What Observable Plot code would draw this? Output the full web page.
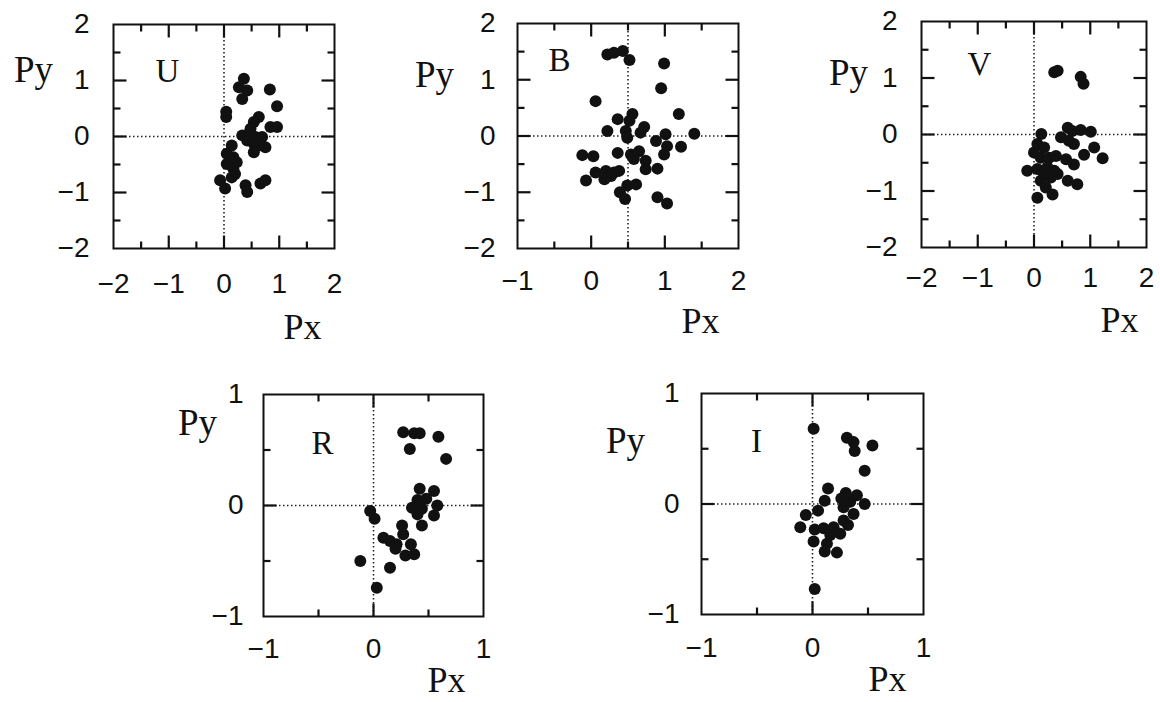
<!DOCTYPE html>
<html><head><meta charset="utf-8">
<script src="https://cdn.jsdelivr.net/npm/d3@7"></script>
<script src="https://cdn.jsdelivr.net/npm/@observablehq/plot@0.6"></script>
<style>
body{margin:0;background:#fff;}
#wrap{position:relative;width:1160px;height:702px;overflow:hidden;background:#fff;}
.panel{position:absolute;}
.panel svg{max-width:none !important;}
</style></head><body><div id="wrap"></div>
<script>
// ---- data (Px, Py) per band ----
const U_px = [0.36,0.27,0.42,0.33,0.83,0.96,0.04,0.04,0.63,0.54,0.84,0.96,0.48,0.45,0.33,0.57,0.69,0.42,0.54,0.75,0.63,0.54,0.14,0.05,0.17,0.11,0.23,0.05,0.17,0.20,0.14,-0.07,0.02,0.39,0.42,0.66,0.75];
const U_py = [1.03,0.88,0.82,0.67,0.84,0.54,0.44,0.35,0.35,0.26,0.17,0.17,0.14,0.05,0.02,-0.01,-0.01,-0.07,-0.13,-0.19,-0.16,-0.28,-0.16,-0.31,-0.37,-0.43,-0.46,-0.49,-0.58,-0.67,-0.73,-0.78,-0.93,-0.87,-0.99,-0.84,-0.78];
const B_px = [0.22,0.31,0.43,0.52,0.99,0.95,0.06,0.56,1.19,0.36,0.52,0.22,0.47,0.72,0.67,0.49,1.40,1.01,0.88,1.03,1.22,0.99,-0.12,0.03,0.36,0.54,0.65,0.58,0.74,0.74,0.90,-0.07,0.06,0.20,0.18,0.31,0.38,0.27,0.49,0.61,0.39,0.46,0.90,1.03];
const B_py = [1.45,1.48,1.51,1.35,1.29,0.85,0.62,0.39,0.39,0.30,0.27,0.09,0.09,0.16,0.06,-0.03,0.04,0.03,-0.09,-0.18,-0.19,-0.33,-0.34,-0.36,-0.30,-0.33,-0.27,-0.41,-0.44,-0.59,-0.58,-0.79,-0.65,-0.62,-0.77,-0.65,-0.62,-0.71,-0.88,-0.86,-1.00,-1.12,-1.09,-1.20];
const V_px = [0.36,0.42,0.83,0.88,0.13,0.60,0.68,0.83,1.01,0.48,0.62,0.71,1.07,0.06,0.18,0.00,0.89,1.22,0.12,0.27,0.39,0.57,0.71,-0.12,0.06,0.24,0.36,0.18,0.30,0.42,0.60,0.77,0.21,0.33,0.06,0.12];
const V_py = [1.10,1.13,1.02,0.90,0.01,0.12,0.06,0.08,0.05,-0.05,-0.11,-0.17,-0.23,-0.17,-0.23,-0.32,-0.36,-0.42,-0.41,-0.41,-0.38,-0.44,-0.53,-0.64,-0.61,-0.58,-0.64,-0.70,-0.76,-0.70,-0.82,-0.88,-0.94,-1.06,-1.12,-0.82];
const R_px = [0.27,0.37,0.42,0.59,0.33,0.66,0.42,0.55,0.40,0.48,0.58,0.35,0.44,0.55,0.40,-0.03,0.01,0.44,0.26,0.27,0.09,0.15,0.21,0.20,0.29,0.37,-0.12,0.15,0.03,0.34];
const R_py = [0.66,0.65,0.65,0.62,0.51,0.42,0.15,0.13,0.05,0.06,0.00,-0.02,-0.03,-0.09,-0.08,-0.05,-0.12,-0.18,-0.18,-0.26,-0.29,-0.32,-0.35,-0.39,-0.45,-0.44,-0.50,-0.56,-0.74,-0.35];
const I_px = [0.01,0.31,0.37,0.38,0.54,0.47,0.14,0.30,0.40,0.11,0.26,0.34,0.47,0.05,-0.06,0.28,0.37,0.28,-0.11,0.02,0.10,0.19,0.32,0.25,0.16,0.01,0.13,0.11,0.22,0.02];
const I_py = [0.68,0.60,0.56,0.48,0.53,0.30,0.14,0.10,0.08,0.03,0.05,0.02,0.00,-0.06,-0.10,-0.03,-0.09,-0.15,-0.21,-0.23,-0.22,-0.21,-0.19,-0.27,-0.28,-0.34,-0.36,-0.43,-0.44,-0.77];

// tick labels
const ticks2 = [-2,-1,0,1,2];
const ticksB = [-1,0,1,2];
const ticks1 = [-1,0,1];
const minor2 = [-1.5,-0.5,0.5,1.5];
const minorB = [-0.5,0.5,1.5];
const minor1 = [-0.5,0.5];

const bands = [
  {name:"U", px:U_px, py:U_py, xd:[-2,2], yd:[-2,2], xt:ticks2, yt:ticks2, xm:minor2, ym:minor2, vline:0,
   L:113, T:24, W:221, H:224, xpad:25, ypad:24, letter:[54,47], pyl:[-80,46], pxl:[-32,79]},
  {name:"B", px:B_px, py:B_py, xd:[-1,2], yd:[-2,2], xt:ticksB, yt:ticks2, xm:minorB, ym:minor2, vline:0.5,
   L:517, T:23, W:221, H:225, xpad:22, ypad:22, letter:[42,37], pyl:[-83,52], pxl:[-38,73]},
  {name:"V", px:V_px, py:V_py, xd:[-2,2], yd:[-2,2], xt:ticks2, yt:ticks2, xm:minor2, ym:minor2, vline:0,
   L:921, T:21, W:225, H:226, xpad:20, ypad:24, letter:[58,43], pyl:[-73,52], pxl:[-27,73]},
  {name:"R", px:R_px, py:R_py, xd:[-1,1], yd:[-1,1], xt:ticks1, yt:ticks1, xm:minor1, ym:minor1, vline:0,
   L:263, T:394, W:220, H:222, xpad:22, ypad:20, letter:[59,49], pyl:[-66,29], pxl:[-37,64]},
  {name:"I", px:I_px, py:I_py, xd:[-1,1], yd:[-1,1], xt:ticks1, yt:ticks1, xm:minor1, ym:minor1, vline:0,
   L:701, T:393, W:222, H:221, xpad:23, ypad:22, letter:[55,48], pyl:[-76,48], pxl:[-36,65]}
];

const SANS = "Liberation Sans, Arial, Helvetica, sans-serif";
const SERIF = "Liberation Serif, Times New Roman, serif";
const fmt = d => d < 0 ? "\u2212" + Math.abs(d) : String(d);
const ML = 110, MR = 40, MT = 20, MB = 120;
const MAJ = 13, MIN = 7;
const INK = "#111";

const wrap = document.getElementById("wrap");
for (const b of bands) {
  const data = b.px.map((x, i) => ({x, y: b.py[i]}));
  const majX = b.xt.filter(t => t > b.xd[0] && t < b.xd[1]);
  const majY = b.yt.filter(t => t > b.yd[0] && t < b.yd[1]);
  const H = b.H, W = b.W;
  // inner ticks on all four sides: pixel lengths expressed in data units of each scale
  const ky = (b.yd[1] - b.yd[0]) / H, kx = (b.xd[1] - b.xd[0]) / W;
  const segs = [];
  for (const [vals, len] of [[majX, MAJ], [b.xm, MIN]]) for (const v of vals) {
    segs.push({x1: v, x2: v, y1: b.yd[0], y2: b.yd[0] + len * ky});
    segs.push({x1: v, x2: v, y1: b.yd[1], y2: b.yd[1] - len * ky});
  }
  for (const [vals, len] of [[majY, MAJ], [b.ym, MIN]]) for (const v of vals) {
    segs.push({y1: v, y2: v, x1: b.xd[0], x2: b.xd[0] + len * kx});
    segs.push({y1: v, y2: v, x1: b.xd[1], x2: b.xd[1] - len * kx});
  }
  const plot = Plot.plot({
    width: W + ML + MR, height: H + MT + MB,
    marginLeft: ML, marginRight: MR, marginTop: MT, marginBottom: MB,
    x: {domain: b.xd}, y: {domain: b.yd},
    style: {fontFamily: SANS, fontSize: "28px", color: INK, background: "transparent", overflow: "visible", maxWidth: "none"},
    marks: [
      Plot.ruleY([0], {stroke: "#222", strokeWidth: 1.6, strokeDasharray: "1.5,2.5"}),
      Plot.ruleX([b.vline], {stroke: "#222", strokeWidth: 1.6, strokeDasharray: "1.5,2.5"}),
      Plot.frame({stroke: INK, strokeWidth: 2}),
      Plot.link(segs, {x1: "x1", y1: "y1", x2: "x2", y2: "y2", stroke: INK, strokeWidth: 2.2}),
      Plot.dot(data, {x: "x", y: "y", r: 6, fill: INK, stroke: "none"}),
      Plot.axisX(b.xt, {anchor: "bottom", tickSize: 0, tickPadding: b.xpad, tickFormat: fmt, label: null, fontSize: 28, fontFamily: SANS}),
      Plot.axisY(b.yt, {anchor: "left", tickSize: 0, tickPadding: b.ypad, tickFormat: fmt, label: null, fontSize: 28, fontFamily: SANS}),
      Plot.text([b.name], {frameAnchor: "top-left", textAnchor: "middle", lineAnchor: "middle", dx: b.letter[0], dy: b.letter[1], fontFamily: SERIF, fontSize: 33, fill: INK}),
      Plot.text(["Py"], {frameAnchor: "top-left", textAnchor: "middle", lineAnchor: "middle", dx: b.pyl[0], dy: b.pyl[1], fontFamily: SERIF, fontSize: 37, fill: INK}),
      Plot.text(["Px"], {frameAnchor: "bottom-right", textAnchor: "middle", lineAnchor: "middle", dx: b.pxl[0], dy: b.pxl[1], fontFamily: SERIF, fontSize: 36, fill: INK})
    ]
  });
  const div = document.createElement("div");
  div.className = "panel";
  div.style.left = (b.L - ML) + "px";
  div.style.top = (b.T - MT) + "px";
  div.style.width = (W + ML + MR) + "px";
  div.appendChild(plot);
  wrap.appendChild(div);
}
</script>
</body></html>
